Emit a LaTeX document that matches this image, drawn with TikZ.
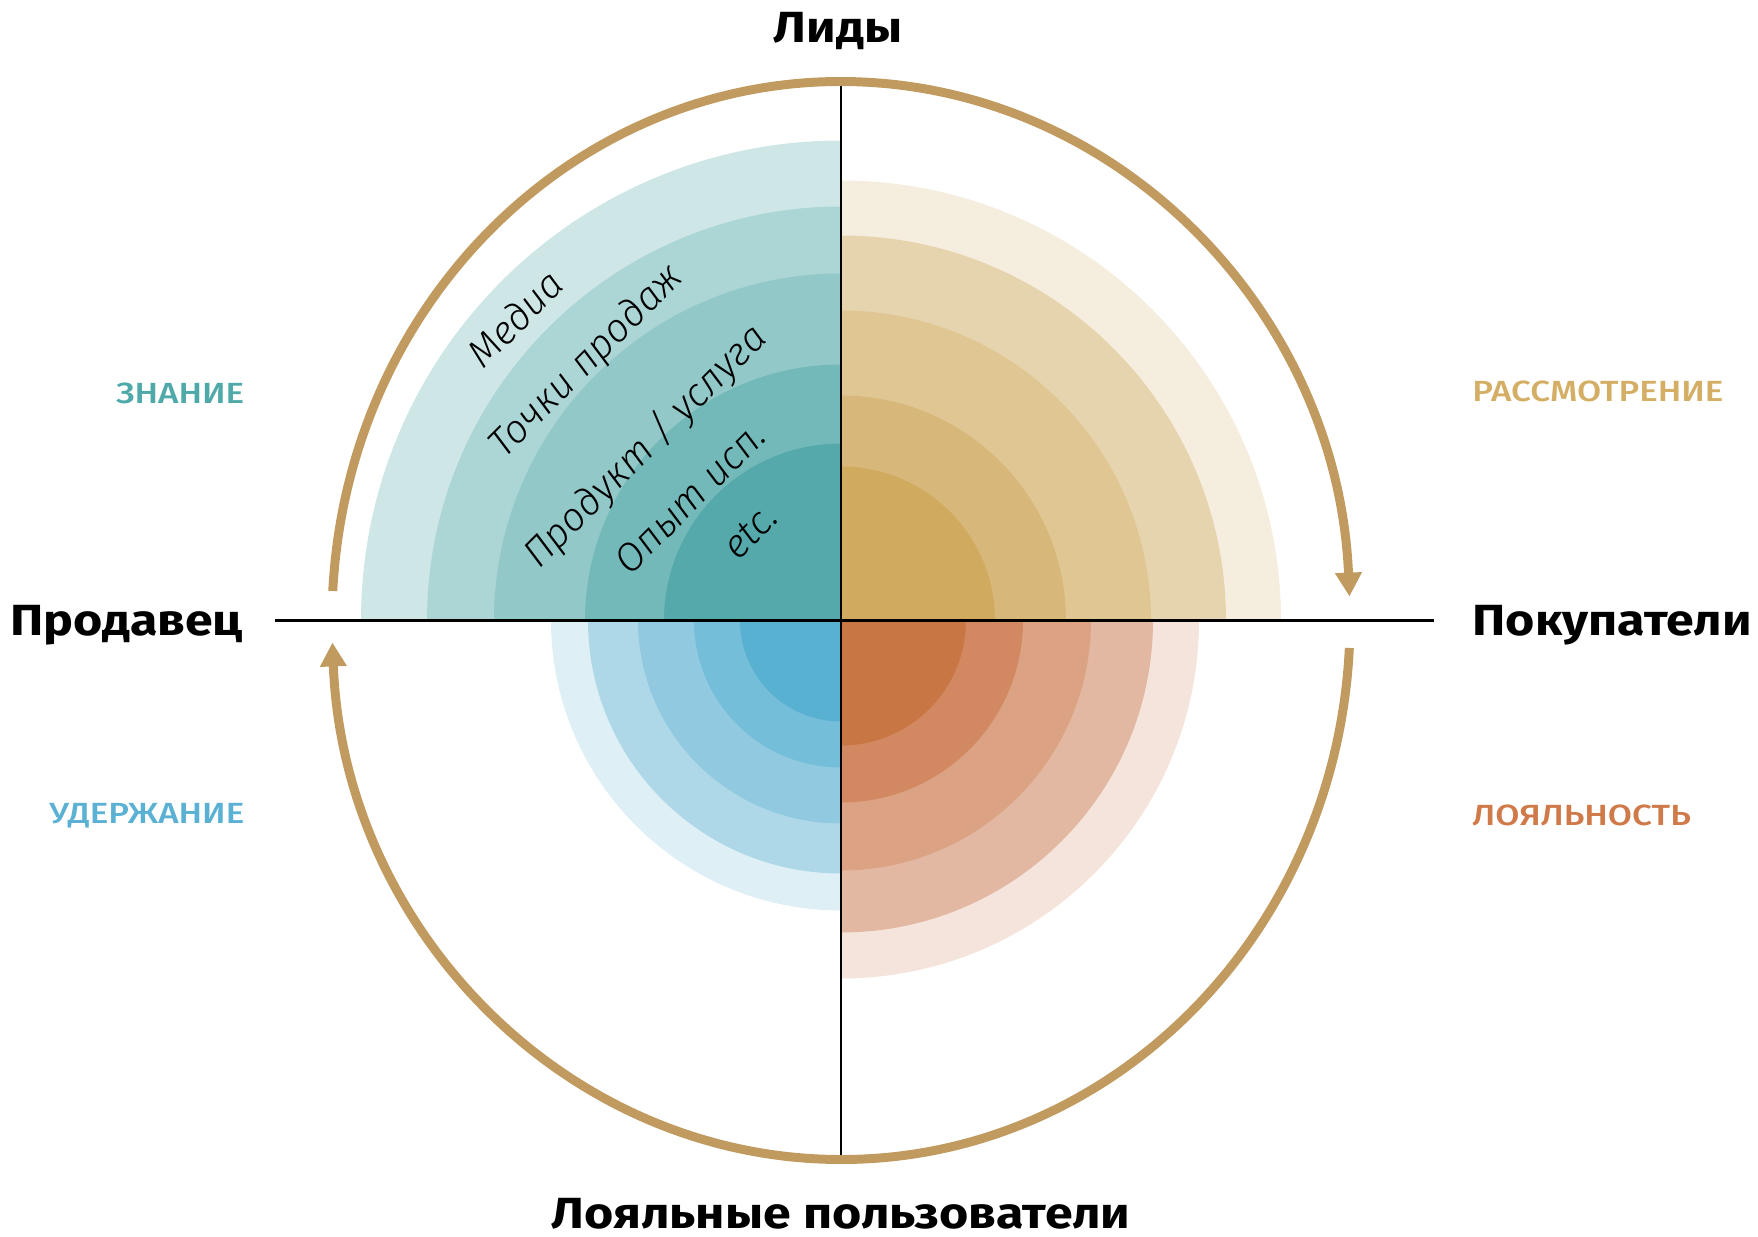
\documentclass[tikz,border=0pt]{standalone}
\usepackage{fontspec}
\setmainfont{Fira Sans}
\newfontfamily\headfont[FakeStretch=1.15]{Fira Sans Bold}
\newfontfamily\stagefont[FakeStretch=1.2]{Fira Sans Medium}
\newfontfamily\ringfont{Fira Sans Light Italic}
\usepackage{tikz}
\usetikzlibrary{positioning, calc, arrows.meta}

\definecolor{tealA}{HTML}{CFE6E6}
\definecolor{tealB}{HTML}{ACD5D5}
\definecolor{tealC}{HTML}{93C8C8}
\definecolor{tealD}{HTML}{74B9B9}
\definecolor{tealE}{HTML}{55A9AA}
\definecolor{goldA}{HTML}{F5EDDE}
\definecolor{goldB}{HTML}{E6D4AE}
\definecolor{goldC}{HTML}{E0C693}
\definecolor{goldD}{HTML}{D7B87A}
\definecolor{goldE}{HTML}{D0AA5F}
\definecolor{blueA}{HTML}{DFEFF6}
\definecolor{blueB}{HTML}{AED8E7}
\definecolor{blueC}{HTML}{91CAE0}
\definecolor{blueD}{HTML}{75BED9}
\definecolor{blueE}{HTML}{59B1D2}
\definecolor{rustA}{HTML}{F5E4DB}
\definecolor{rustB}{HTML}{E3B8A2}
\definecolor{rustC}{HTML}{DBA383}
\definecolor{rustD}{HTML}{D28961}
\definecolor{rustE}{HTML}{C87744}
\definecolor{cycle}{HTML}{C09A5E}
\definecolor{knowcol}{HTML}{4FA9A9}
\definecolor{considercol}{HTML}{D4AE64}
\definecolor{retaincol}{HTML}{5AB1D4}
\definecolor{loyalcol}{HTML}{CF7A48}

\tikzset{
  head/.style={inner sep=0pt, font=\headfont\fontsize{12.4}{14}\selectfont},
  stage/.style={inner sep=0pt, font=\stagefont\fontsize{8.3}{10}\selectfont},
  ringtext/.style={inner sep=0pt, rotate=45, font=\ringfont\fontsize{11.2}{13}\selectfont},
  cyclearc/.style={draw=cycle, line width=2.55pt},
}

\begin{document}
\begin{tikzpicture}[x=0.01cm, y=0.01cm]
			\useasboundingbox (-841, -615.5) rectangle (917, 620.5);

			% upper left
			\fill[tealA] (0, 0) -- (180:480) arc[start angle=180, end angle=90, radius=480] -- cycle;
			\fill[tealB] (0, 0) -- (180:414) arc[start angle=180, end angle=90, radius=414] -- cycle;
			\fill[tealC] (0, 0) -- (180:347) arc[start angle=180, end angle=90, radius=347] -- cycle;
			\fill[tealD] (0, 0) -- (180:256) arc[start angle=180, end angle=90, radius=256] -- cycle;
			\fill[tealE] (0, 0) -- (180:177) arc[start angle=180, end angle=90, radius=177] -- cycle;

			% upper right
			\fill[goldA] (0, 0) -- (90:440) arc[start angle=90, end angle=0, radius=440] -- cycle;
			\fill[goldB] (0, 0) -- (90:385) arc[start angle=90, end angle=0, radius=385] -- cycle;
			\fill[goldC] (0, 0) -- (90:310) arc[start angle=90, end angle=0, radius=310] -- cycle;
			\fill[goldD] (0, 0) -- (90:225) arc[start angle=90, end angle=0, radius=225] -- cycle;
			\fill[goldE] (0, 0) -- (90:154) arc[start angle=90, end angle=0, radius=154] -- cycle;

			% lower left
			\fill[blueA] (0, 0) -- (180:290) arc[start angle=180, end angle=270, radius=290] -- cycle;
			\fill[blueB] (0, 0) -- (180:253) arc[start angle=180, end angle=270, radius=253] -- cycle;
			\fill[blueC] (0, 0) -- (180:203) arc[start angle=180, end angle=270, radius=203] -- cycle;
			\fill[blueD] (0, 0) -- (180:147) arc[start angle=180, end angle=270, radius=147] -- cycle;
			\fill[blueE] (0, 0) -- (180:101) arc[start angle=180, end angle=270, radius=101] -- cycle;

			% lower right
			\fill[rustA] (0, 0) -- (0:358) arc[start angle=0, end angle=-90, radius=358] -- cycle;
			\fill[rustB] (0, 0) -- (0:312) arc[start angle=0, end angle=-90, radius=312] -- cycle;
			\fill[rustC] (0, 0) -- (0:250) arc[start angle=0, end angle=-90, radius=250] -- cycle;
			\fill[rustD] (0, 0) -- (0:182) arc[start angle=0, end angle=-90, radius=182] -- cycle;
			\fill[rustE] (0, 0) -- (0:125) arc[start angle=0, end angle=-90, radius=125] -- cycle;

			\coordinate (west)  at (-566, 0);
			\coordinate (east)  at (593, 0);
			\coordinate (north) at (0, 537);
			\coordinate (south) at (0, -537);
			\draw[line width=0.75pt] (west) -- (east);
			\draw[line width=0.75pt] (north) -- (south);

			\draw[cyclearc, -{Triangle[width=7.2pt, length=6.8pt]}]
				(176.86:509 and 539) arc[start angle=176.86, end angle=2.55, x radius=509, y radius=539];
			\draw[cyclearc, -{Triangle[width=7.2pt, length=6.8pt]}]
				(-2.92:509 and 539) arc[start angle=-2.92, end angle=-177.66, x radius=509, y radius=539];

			\node[head, anchor=base]      (leads)  at (-3, 577.8)    {Лиды};
			\node[head, anchor=base]      (loyal)  at (0, -607.5)    {Лояльные пользователи};
			\node[head, anchor=base east] (seller) at (-597.7, -14.5) {Продавец};
			\node[head, anchor=base west] (buyers) at (630.7, -14.5)  {Покупатели};

			\node[stage, anchor=base east, text=knowcol]     (know)     at (-596, 217.2) {ЗНАНИЕ};
			\node[stage, anchor=base east, text=retaincol]   (retain)   at (-596, -203)  {УДЕРЖАНИЕ};
			\node[stage, anchor=base west, text=considercol] (consider) at (630.7, 218.8) {РАССМОТРЕНИЕ};
			\node[stage, anchor=base west, text=loyalcol]    (loyalty)  at (630.7, -204.5) {ЛОЯЛЬНОСТЬ};

			\node[ringtext] (media)      at (-326, 302.2)   {Медиа};
			\node[ringtext] (points)     at (-253.7, 258.8) {Точки продаж};
			\node[ringtext] (product)    at (-195.3, 173.8) {Продукт / услуга};
			\node[ringtext] (experience) at (-151, 122.8)   {Опыт исп.};
			\node[ringtext] (etc)        at (-90.3, 88.8)   {etc.};
		\end{tikzpicture}
\end{document}
